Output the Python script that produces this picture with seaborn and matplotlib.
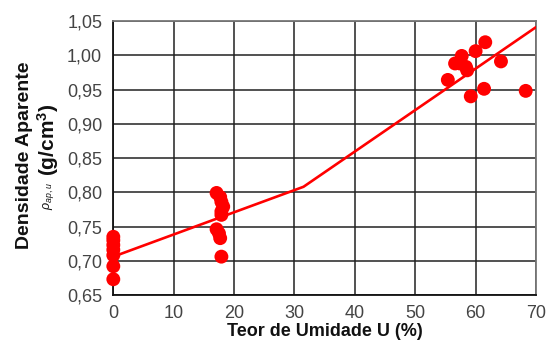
import numpy as np
import pandas as pd
import matplotlib
matplotlib.use("Agg")
import matplotlib.pyplot as plt
import seaborn as sns
from matplotlib.ticker import FuncFormatter

# Data
x_pts = [0, 0, 0, 0, 0, 0, 0,
         17.1, 17.7, 17.9, 18.2, 17.9, 17.9, 17.1, 17.5, 17.7, 17.9,
         61.6, 60.0, 57.7, 56.6, 57.4, 58.4, 58.6, 55.4, 64.2, 61.4, 59.2, 68.3]
y_pts = [0.735, 0.730, 0.723, 0.716, 0.708, 0.692, 0.673,
         0.799, 0.793, 0.786, 0.779, 0.772, 0.767, 0.746, 0.740, 0.733, 0.706,
         1.019, 1.006, 0.999, 0.988, 0.988, 0.983, 0.978, 0.964, 0.991, 0.951, 0.940, 0.948]
fit_x = [0, 31.5, 70]
fit_y = [0.706, 0.808, 1.041]

x_ticks = [0, 10, 20, 30, 40, 50, 60, 70]
y_ticks = [0.65, 0.70, 0.75, 0.80, 0.85, 0.90, 0.95, 1.00, 1.05]

sns.set_style("white")
plt.rcParams['font.family'] = ['Liberation Sans', 'DejaVu Sans']
plt.rcParams['mathtext.fontset'] = 'custom'
plt.rcParams['mathtext.rm'] = 'Liberation Sans'
plt.rcParams['mathtext.it'] = 'Liberation Sans:italic'
plt.rcParams['mathtext.bf'] = 'Liberation Sans:bold'

fig = plt.figure(figsize=(5.49, 3.42), dpi=100)
ax = fig.add_axes([0.2064, 0.1374, 0.7699, 0.8012])

pts = pd.DataFrame({"U": x_pts, "rho": y_pts})
fit = pd.DataFrame({"U": fit_x, "rho": fit_y})

ax.set_xlim(0, 70)
ax.set_ylim(0.65, 1.05)
ax.set_xticks(x_ticks)
ax.set_yticks(y_ticks)
ax.grid(True, color='#222222', linewidth=1.1)
ax.set_axisbelow(True)

sns.lineplot(data=fit, x="U", y="rho", ax=ax, color='#ff0000', linewidth=1.9, zorder=3)
sns.scatterplot(data=pts, x="U", y="rho", ax=ax, color='#ff0000', s=100,
                edgecolor='none', zorder=4, clip_on=False)

ax.yaxis.set_major_formatter(FuncFormatter(lambda v, p: f"{v:.2f}".replace('.', ',')))
ax.xaxis.set_major_formatter(FuncFormatter(lambda v, p: f"{int(round(v))}"))
ax.tick_params(axis='both', which='major', labelsize=13, labelcolor='#444444',
               length=6, width=1.1, color='#222222', direction='out')
ax.tick_params(axis='y', pad=2)
ax.tick_params(axis='x', pad=1)

for side in ['left', 'bottom']:
    ax.spines[side].set_color('#111111')
    ax.spines[side].set_linewidth(1.3)
for side in ['top', 'right']:
    ax.spines[side].set_color('#777777')
    ax.spines[side].set_linewidth(1.3)

ax.set_xlabel("Teor de Umidade U (%)", fontsize=13, fontweight='bold', color='#111111', labelpad=1)
ax.set_ylabel("")

fig.text(25/549, 1 - 155/342, "Densidade Aparente", rotation=90, fontsize=14,
         fontweight='bold', color='#111111', ha='center', va='center')
fig.text(49/549, 1 - 196/342, r"$\rho_{ap,u}$", rotation=90, fontsize=9,
         color='#111111', ha='center', va='center')
fig.text(48/549, 1 - 140/342, r"(g/cm$^{\mathbf{3}}$)", rotation=90, fontsize=15,
         fontweight='bold', color='#111111', ha='center', va='center')

fig.savefig("out.png", dpi=100)
